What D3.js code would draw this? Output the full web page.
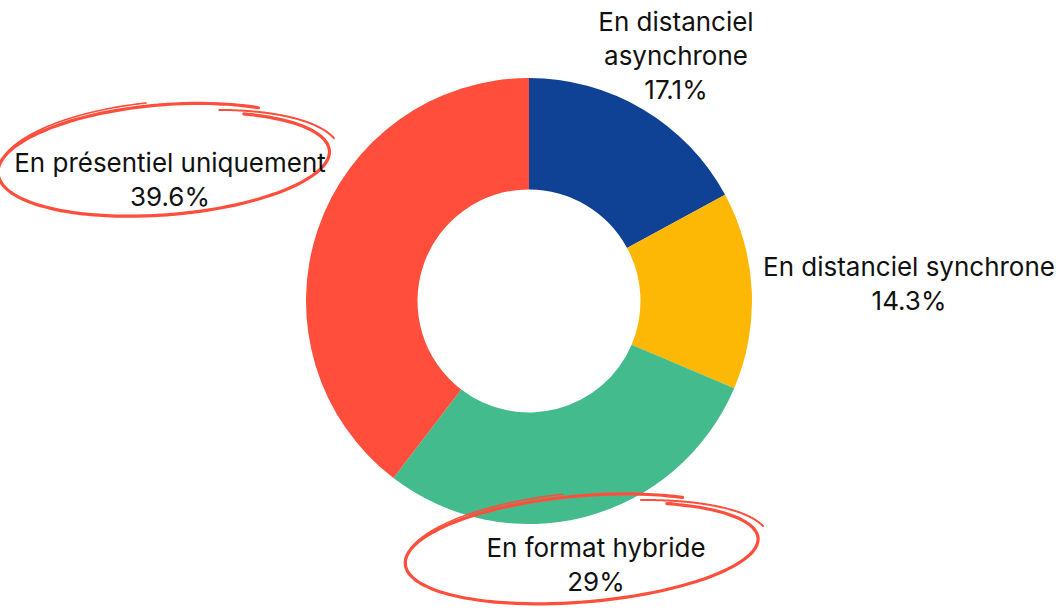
<!DOCTYPE html>
<html><head><meta charset="utf-8">
<script src="https://cdn.jsdelivr.net/npm/d3@7"></script>
<style>html,body{margin:0;padding:0;background:#fff;overflow:hidden}</style>
</head><body>
<svg id="chart" width="1059" height="610"></svg>
<script>
// ---- data ----
const categories = ["En distanciel asynchrone", "En distanciel synchrone", "En format hybride", "En présentiel uniquement"];
const labelLines = [["En distanciel", "asynchrone"], ["En distanciel synchrone"], ["En format hybride"], ["En présentiel uniquement"]];
const values = [17.1, 14.3, 29, 39.6];
const valueLabels = ["17.1%", "14.3%", "29%", "39.6%"];
const highlighted = [false, false, true, true];

// ---- layout / style ----
const colors = ["#0F4294", "#FDB705", "#44BB8C", "#FF4F3C"];
const cx = 529, cy = 301, outerR = 223, innerR = 111.5;
const labelAnchors = [[676, 31], [909, 276], [596, 557], [170, 172]]; // x center, first-line baseline
const lineH = 34;
const ringCfg = [null, null, {cx: 583, cy: 551, rx: 180, ry: 55, tilt: -4.3}, {cx: 165, cy: 162, rx: 169, ry: 57, tilt: -4}];

const svg = d3.select("#chart");
const g = svg.append("g").attr("transform", `translate(${cx},${cy})`);
const pie = d3.pie().sort(null).value(d => d);
const arc = d3.arc().innerRadius(innerR).outerRadius(outerR);
g.selectAll("path").data(pie(values)).join("path")
  .attr("d", arc).attr("fill", (d, i) => colors[i]);

// font size fitted to reference text width
const fontFam = "Inter, 'Noto Sans', sans-serif";
const probe = svg.append("text").style("font-family", fontFam).style("font-size", "22px").text("En distanciel synchrone");
const w = probe.node().getComputedTextLength();
probe.remove();
const fs = 22 * 292 / w;

// hand-drawn ellipses
const line = d3.line().curve(d3.curveCatmullRom);
function ellipsePts(c, t0, t1, s0, s1, q0, q1) {
  const pts = [], n = 120, a = c.tilt * Math.PI / 180;
  for (let k = 0; k <= n; k++) {
    const f = k / n, t = (t0 + (t1 - t0) * f) * Math.PI / 180;
    const rx = c.rx * (s0 + (s1 - s0) * f), ry = c.ry * (q0 + (q1 - q0) * f);
    const x = rx * Math.cos(t), y = ry * Math.sin(t);
    pts.push([c.cx + x * Math.cos(a) - y * Math.sin(a), c.cy + x * Math.sin(a) + y * Math.cos(a)]);
  }
  return pts;
}
ringCfg.forEach(c => {
  if (!c) return;
  const rg = svg.append("g").attr("fill", "none").attr("stroke", "#FF4F3C").attr("stroke-linecap", "round");
  rg.append("path").attr("d", line(ellipsePts(c, -60, 305, 0.97, 1.0, 0.86, 1.02))).attr("stroke-width", 3.2);
  rg.append("path").attr("d", line(ellipsePts(c, -160, -95, 0.99, 1.0, 1.04, 1.06))).attr("stroke-width", 1.6);
  rg.append("path").attr("d", line(ellipsePts(c, -70, -12, 1.0, 1.03, 0.9, 1.0))).attr("stroke-width", 2);
});

// labels
labelLines.forEach((lines, i) => {
  const [x, y] = labelAnchors[i];
  const t = svg.append("text").attr("text-anchor", "middle")
    .style("font-family", fontFam).style("font-size", fs + "px").attr("fill", "#111");
  [...lines, valueLabels[i]].forEach((s, j) => {
    t.append("tspan").attr("x", x).attr("y", y + j * lineH).text(s);
  });
});
</script>
</body></html>
